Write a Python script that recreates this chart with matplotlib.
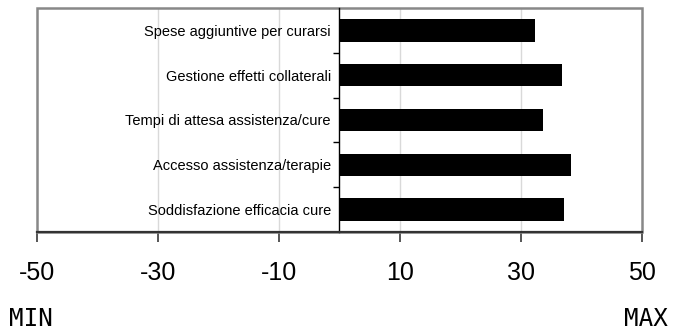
import matplotlib
matplotlib.use("Agg")
import matplotlib.pyplot as plt
from matplotlib.patches import Rectangle
from matplotlib import font_manager
import numpy as np

categories = ["Soddisfazione efficacia cure",
              "Accesso assistenza/terapie",
              "Tempi di attesa assistenza/cure",
              "Gestione effetti collaterali",
              "Spese aggiuntive per curarsi"]
values = [37.1, 38.3, 33.7, 36.8, 32.4]
xticks = [-50, -30, -10, 10, 30, 50]
xmin, xmax = -50, 50

names = {f.name for f in font_manager.fontManager.ttflist}
if "Liberation Sans Narrow" in names:
    narrow_family = ["Liberation Sans Narrow", "DejaVu Sans"]
    narrow_size = 12
else:
    narrow_family = ["Liberation Sans", "DejaVu Sans"]
    narrow_size = 10.5

fig = plt.figure(figsize=(6.74, 3.35), dpi=100)
ax = fig.add_axes([36.5/674, 1-232/335, (642-36.5)/674, (232-8)/335])

y = np.arange(len(categories))
ax.barh(y, values, height=0.5, color="black", zorder=3)
ax.set_xlim(xmin, xmax)
ax.set_ylim(-0.5, len(categories)-0.5)

# grid
for t in xticks[1:-1]:
    ax.axvline(t, color="#d9d9d9", lw=1, zorder=1)

# spines
for s in ["top", "right"]:
    ax.spines[s].set_visible(False)
ax.spines["left"].set_position(("data", 0))
ax.spines["left"].set_color("black")
ax.spines["left"].set_linewidth(1)
ax.spines["left"].set_zorder(4)
ax.spines["bottom"].set_color("#333333")
ax.spines["bottom"].set_linewidth(1.6)
ax.spines["bottom"].set_zorder(5)
ax.add_patch(Rectangle((0, 0), 1, 1, transform=ax.transAxes, fill=False,
                       edgecolor="#888888", lw=1.8, zorder=2, clip_on=False))

ax.set_xticks(xticks)
ax.set_xticklabels([str(t) for t in xticks], fontfamily=["Liberation Sans", "DejaVu Sans"], fontsize=18)
ax.tick_params(axis="x", length=7, width=1.4, color="#555555", pad=14)

ax.set_yticks(y)
ax.set_yticklabels(categories, fontfamily=narrow_family, fontsize=narrow_size)
ax.tick_params(axis="y", which="major", length=0, pad=6)
ax.set_yticks(np.arange(len(categories)+1)[1:-1] - 0.5, minor=True)
ax.tick_params(axis="y", which="minor", length=4, width=1, color="black", direction="out")
ax.set_facecolor("white")

fig.text(9/674, 1-319/335, "MIN", fontfamily="DejaVu Sans Mono", fontsize=17.5,
         ha="left", va="center")
fig.text(668/674, 1-319/335, "MAX", fontfamily="DejaVu Sans Mono", fontsize=17.5,
         ha="right", va="center")

fig.savefig("out.png", dpi=100)
